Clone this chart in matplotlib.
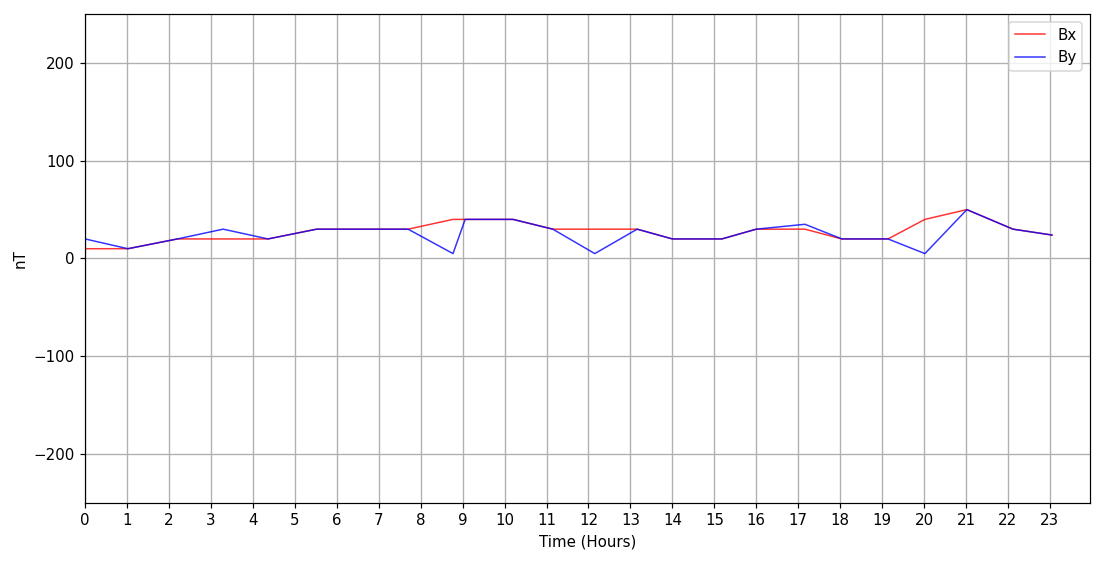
import numpy as np
from matplotlib import pyplot as plt

# sample times in hours
hours = [0.0, 1.02, 2.2, 3.29, 4.36, 5.52, 6.6, 7.7, 8.77, 9.06, 10.2, 11.15,
         12.15, 13.16, 14.0, 15.18, 16.0, 17.16, 18.04, 19.14, 20.02, 21.02,
         22.12, 23.05]
bx = [10, 10, 20, 20, 20, 30, 30, 30, 40, 40, 40, 30,
      30, 30, 20, 20, 30, 30, 20, 20, 40, 50, 30, 24]
by = [20, 10, 20, 30, 20, 30, 30, 30, 5, 40, 40, 30,
      5, 30, 20, 20, 30, 35, 20, 20, 5, 50, 30, 24]

hour_ticks = list(range(24))

DPI = 108
FONTSIZE = 10


def plot_field():
    fig = plt.figure(figsize=(1120 / DPI, 565 / DPI), dpi=DPI)
    ax = fig.add_axes([0.076, 0.110, 0.897, 0.865])
    ax.plot(hours, bx, color='red', alpha=0.8, linewidth=1.0, label='Bx')
    ax.plot(hours, by, color='blue', alpha=0.8, linewidth=1.0, label='By')

    ax.set_xlim(0, 23.95)
    ax.set_ylim(-250, 250)
    ax.set_xticks(hour_ticks)
    ax.set_yticks([-200, -100, 0, 100, 200])
    ax.tick_params(labelsize=FONTSIZE)
    ax.grid(linewidth=0.9, color='#b0b0b0')
    ax.set_xlabel('Time (Hours)', fontsize=FONTSIZE)
    ax.set_ylabel('nT', fontsize=FONTSIZE)
    ax.legend(loc='upper right', fontsize=FONTSIZE)
    fig.savefig('out.png', dpi=DPI)


if __name__ == "__main__":
    plot_field()
